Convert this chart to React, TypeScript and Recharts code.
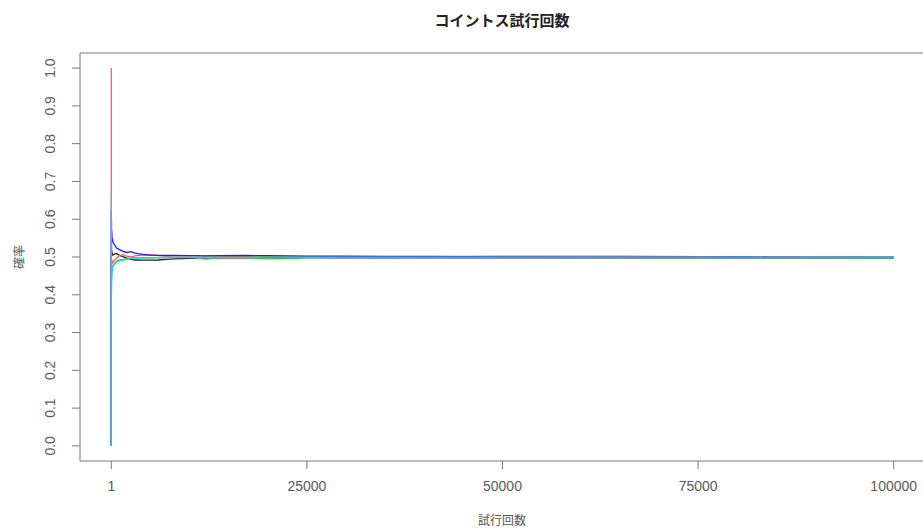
import { Line, LineChart, XAxis, YAxis } from 'recharts'

// trial counts sampled along the run
const trials = [
  1, 2, 3, 4, 6, 8, 12, 20, 35, 60, 100, 200, 400, 700, 1000, 1500, 2000, 2500, 3000, 4000, 5000,
  6000, 7000, 8000, 10000, 12000, 14000, 17000, 20000, 25000, 30000, 35000, 40000, 45000, 50000,
  55000, 60000, 65000, 70000, 75000, 80000, 85000, 90000, 95000, 100000,
]

const blackRun = [
  0.0, 0.5, 0.333, 0.5, 0.5, 0.5, 0.5, 0.55, 0.514, 0.517, 0.51, 0.505, 0.5075, 0.509, 0.505, 0.501,
  0.497, 0.4935, 0.492, 0.4915, 0.4915, 0.492, 0.4935, 0.495, 0.4965, 0.497, 0.4975, 0.498, 0.4985,
  0.4985, 0.498, 0.4978, 0.4975, 0.4975, 0.4975, 0.4977, 0.4978, 0.498, 0.4978, 0.4976, 0.4975,
  0.4977, 0.4978, 0.498, 0.498,
]
const redRun = [
  1.0, 0.5, 0.667, 0.5, 0.5, 0.375, 0.417, 0.45, 0.457, 0.483, 0.49, 0.485, 0.4925, 0.497, 0.503,
  0.506, 0.502, 0.5, 0.503, 0.505, 0.506, 0.504, 0.503, 0.503, 0.5035, 0.503, 0.502, 0.502, 0.5015,
  0.501, 0.5008, 0.501, 0.5012, 0.5015, 0.502, 0.5022, 0.5022, 0.502, 0.5015, 0.501, 0.5005, 0.5,
  0.4998, 0.4997, 0.4997,
]
const greenRun = [
  0.0, 0.5, 0.333, 0.5, 0.5, 0.5, 0.417, 0.45, 0.457, 0.467, 0.47, 0.475, 0.4825, 0.489, 0.492,
  0.494, 0.4965, 0.497, 0.4975, 0.4975, 0.498, 0.4985, 0.499, 0.4985, 0.499, 0.4945, 0.4975, 0.4985,
  0.495, 0.498, 0.499, 0.4985, 0.4988, 0.499, 0.4992, 0.4988, 0.499, 0.4988, 0.4985, 0.4983, 0.4982,
  0.4982, 0.4981, 0.498, 0.498,
]
const blueRun = [
  0.0, 0.5, 0.333, 0.5, 0.5, 0.625, 0.583, 0.6, 0.571, 0.567, 0.55, 0.54, 0.5325, 0.523, 0.52, 0.515,
  0.512, 0.514, 0.51, 0.507, 0.505, 0.5045, 0.504, 0.504, 0.5035, 0.503, 0.5035, 0.504, 0.5035,
  0.5025, 0.502, 0.5018, 0.5015, 0.501, 0.5005, 0.5, 0.4998, 0.4998, 0.4998, 0.4999, 0.5, 0.4999,
  0.4998, 0.4998, 0.4999,
]
const cyanRun = [
  0.0, 0.5, 0.667, 0.5, 0.333, 0.375, 0.417, 0.4, 0.429, 0.45, 0.46, 0.475, 0.48, 0.486, 0.49, 0.492,
  0.494, 0.496, 0.497, 0.4975, 0.498, 0.4985, 0.4985, 0.499, 0.499, 0.4985, 0.499, 0.4992, 0.4995,
  0.4995, 0.4997, 0.4998, 0.4998, 0.4997, 0.4996, 0.4995, 0.4996, 0.4997, 0.4997, 0.4998, 0.4997,
  0.4998, 0.4998, 0.4999, 0.4999,
]

const series = [
  { key: 'black', color: '#222222', values: blackRun },
  { key: 'red', color: '#ff5a5a', values: redRun },
  { key: 'green', color: '#22d040', values: greenRun },
  { key: 'blue', color: '#1c1cff', values: blueRun },
  { key: 'cyan', color: '#2ec8ee', values: cyanRun },
]

const xTicks = [1, 25000, 50000, 75000, 100000]
const yTicks = [0, 0.1, 0.2, 0.3, 0.4, 0.5, 0.6, 0.7, 0.8, 0.9, 1.0]

const xDomain = [-3999, 104000]
const yDomain = [-0.04, 1.04]

const rows = trials.map((n, i) => {
  const row: Record<string, number> = { n }
  series.forEach((s) => {
    row[s.key] = s.values[i]
  })
  return row
})

const tickFont = { fontFamily: 'Liberation Sans', fontSize: 14, fill: '#5a5a5a' }
const frame = '#777'

function XTick({ x, y, payload }: any) {
  return (
    <text x={x} y={y} textAnchor="middle" dominantBaseline="central" {...tickFont}>
      {String(payload.value)}
    </text>
  )
}

function YTick({ x, y, payload }: any) {
  return (
    <text
      x={x}
      y={y}
      transform={`rotate(-90 ${x} ${y})`}
      textAnchor="middle"
      dominantBaseline="central"
      {...tickFont}
    >
      {Number(payload.value).toFixed(1)}
    </text>
  )
}

export default function App() {
  return (
    <div
      style={{
        position: 'absolute',
        left: 0,
        top: 0,
        width: 923,
        height: 529,
        overflow: 'hidden',
        background: '#fff',
      }}
    >
      <div
        style={{
          position: 'absolute',
          left: 0,
          width: 1004,
          top: 8,
          textAlign: 'center',
          fontFamily: 'Noto Sans CJK JP',
          fontWeight: 700,
          fontSize: 15,
          color: '#222',
          lineHeight: '24px',
        }}
      >
        コイントス試行回数
      </div>
      <div
        style={{
          position: 'absolute',
          left: 0,
          width: 1004,
          top: 508,
          textAlign: 'center',
          fontFamily: 'Noto Sans CJK JP',
          fontSize: 12,
          color: '#555',
          lineHeight: '24px',
        }}
      >
        試行回数
      </div>
      <div
        style={{
          position: 'absolute',
          left: 18,
          top: 257,
          transform: 'translate(-50%, -50%) rotate(-90deg)',
          fontFamily: 'Noto Sans CJK JP',
          fontSize: 12,
          color: '#555',
          whiteSpace: 'nowrap',
        }}
      >
        確率
      </div>
      <div style={{ position: 'absolute', left: 0, top: 0 }}>
        <LineChart
          width={935}
          height={529}
          data={rows}
          margin={{ top: 52, right: 10, left: 0, bottom: 0 }}
        >
          <XAxis
            xAxisId="x"
            dataKey="n"
            type="number"
            domain={xDomain}
            allowDataOverflow
            ticks={xTicks}
            height={68}
            tickSize={8}
            tickMargin={17}
            tick={<XTick />}
            axisLine={{ stroke: frame }}
            tickLine={{ stroke: frame }}
          />
          <XAxis
            xAxisId="frame"
            orientation="top"
            dataKey="n"
            type="number"
            domain={xDomain}
            allowDataOverflow
            height={1}
            ticks={[]}
            tick={false}
            tickLine={false}
            axisLine={{ stroke: frame }}
          />
          <YAxis
            type="number"
            domain={yDomain}
            allowDataOverflow
            ticks={yTicks}
            width={80}
            tickSize={8}
            tickMargin={22}
            tick={<YTick />}
            axisLine={{ stroke: frame }}
            tickLine={{ stroke: frame }}
          />
          {series.map((s) => (
            <Line
              key={s.key}
              xAxisId="x"
              type="linear"
              dataKey={s.key}
              stroke={s.color}
              strokeWidth={1.3}
              dot={false}
              activeDot={false}
              isAnimationActive={false}
            />
          ))}
        </LineChart>
      </div>
    </div>
  )
}
